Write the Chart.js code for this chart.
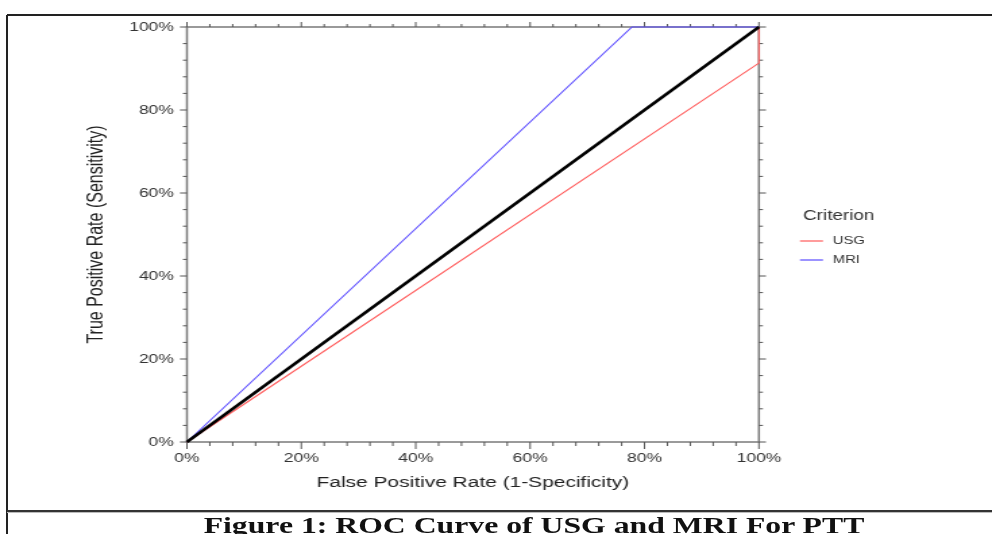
<!DOCTYPE html>
<html lang="en">
<head>
    <meta charset="UTF-8">
    <title>ROC Curve of USG and MRI For PTT</title>
    <script src="https://cdn.jsdelivr.net/npm/chart.js"></script>
    <style>
        body {
            margin: 0;
            padding: 0;
            background: #fff;
            width: 992px;
            height: 534px;
            overflow: hidden;
            position: relative;
            font-family: "Liberation Sans", Arial, sans-serif;
        }

        #rocChart {
            position: absolute;
            left: 0;
            top: 0;
        }

        .frame-left {
            position: absolute;
            left: 6px;
            top: 15px;
            width: 2px;
            height: 519px;
            background: #222;
        }

        .frame-top {
            position: absolute;
            left: 7px;
            top: 14px;
            width: 985px;
            height: 2px;
            background: #222;
        }

        .frame-mid {
            position: absolute;
            left: 7px;
            top: 510px;
            width: 985px;
            height: 2px;
            background: #333;
            border-bottom: 1px solid #bbb;
        }

        .caption {
            position: absolute;
            left: 0;
            width: 992px;
            top: 512px;
            text-align: center;
            font-family: "Liberation Serif", "Times New Roman", serif;
            font-weight: bold;
            font-size: 23.5px;
            color: #111;
            transform: translateX(38px) scaleX(1.35);
            transform-origin: 496px 0;
            white-space: nowrap;
        }
    </style>
</head>
<body>
<!-- drawn at 735px wide and stretched to 992px, like the reference image -->
<canvas id="rocChart" width="735" height="534" style="width: 992px; height: 534px;"></canvas>
<div class="frame-left"></div>
<div class="frame-top"></div>
<div class="frame-mid"></div>
<div class="caption">Figure 1: ROC Curve of USG and MRI For PTT</div>

<script>
    // ROC points (false positive rate, true positive rate)
    const usgFpr = [0, 1, 1];
    const usgTpr = [0, 0.913, 1];
    const mriFpr = [0, 0.778, 1];
    const mriTpr = [0, 1, 1];
    const refFpr = [0, 1];
    const refTpr = [0, 1];

    const majorTicks = [0, 0.2, 0.4, 0.6, 0.8, 1];
    const tickLabels = ["0%", "20%", "40%", "60%", "80%", "100%"];
    const minorStep = 0.04;

    const legendTitle = "Criterion";
    const seriesNames = ["USG", "MRI"];
    const seriesColors = ["#ff5a5a", "#5a4bff"];

    function toPoints(xs, ys) {
        return xs.map((x, i) => ({x: x, y: ys[i]}));
    }

    function tickText(value) {
        const idx = majorTicks.findIndex(t => Math.abs(t - value) < 1e-6);
        return idx >= 0 ? tickLabels[idx] : "";
    }

    // axis frame with ticks on all four sides (drawn under the curves)
    const axisFrame = {
        id: "axisFrame",
        beforeDatasetsDraw(chart) {
            const ctx = chart.ctx;
            const a = chart.chartArea;
            const xs = chart.scales.x, ys = chart.scales.y;
            ctx.save();
            ctx.strokeStyle = "#7a7a7a";
            ctx.lineWidth = 1.5;
            ctx.strokeRect(a.left, a.top, a.right - a.left, a.bottom - a.top);
            ctx.lineWidth = 1;
            ctx.strokeStyle = "#555";
            const n = Math.round(1 / minorStep);
            for (let i = 0; i <= n; i++) {
                const v = i * minorStep;
                const major = i % 5 === 0;
                const px = xs.getPixelForValue(v);
                const py = ys.getPixelForValue(v);
                const lv = major ? 7 : 4;
                const lh = major ? 5.2 : 3;
                ctx.beginPath();
                // bottom
                ctx.moveTo(px, a.bottom);
                ctx.lineTo(px, a.bottom + lv);
                // top
                ctx.moveTo(px, a.top);
                ctx.lineTo(px, a.top - (major ? 5 : 3));
                // left
                ctx.moveTo(a.left, py);
                ctx.lineTo(a.left - lh, py);
                // right
                ctx.moveTo(a.right, py);
                ctx.lineTo(a.right + lh, py);
                ctx.stroke();
            }
            ctx.restore();
        },
        afterDraw(chart) {
            const ctx = chart.ctx;
            ctx.save();
            ctx.fillStyle = "#333";
            ctx.textBaseline = "middle";
            ctx.textAlign = "left";
            ctx.font = "14px 'Liberation Sans', Arial, sans-serif";
            ctx.fillText(legendTitle, 595, 216);
            ctx.font = "11px 'Liberation Sans', Arial, sans-serif";
            const rows = [241, 260];
            seriesNames.forEach((name, i) => {
                ctx.strokeStyle = seriesColors[i];
                ctx.lineWidth = 1.2;
                ctx.beginPath();
                ctx.moveTo(592.7, rows[i]);
                ctx.lineTo(609.8, rows[i]);
                ctx.stroke();
                ctx.fillText(name, 617, rows[i]);
            });
            ctx.restore();
        }
    };

    const ctx = document.getElementById("rocChart").getContext("2d");
    const rocChart = new Chart(ctx, {
        type: "scatter",
        data: {
            datasets: [
                {
                    label: "Reference",
                    data: toPoints(refFpr, refTpr),
                    borderColor: "#000",
                    borderWidth: 2.6,
                    order: 0
                },
                {
                    label: seriesNames[0],
                    data: toPoints(usgFpr, usgTpr),
                    borderColor: seriesColors[0],
                    borderWidth: 1.1,
                    order: 1
                },
                {
                    label: seriesNames[1],
                    data: toPoints(mriFpr, mriTpr),
                    borderColor: seriesColors[1],
                    borderWidth: 1.1,
                    order: 2
                }
            ].map(d => Object.assign(d, {showLine: true, pointRadius: 0, fill: false, clip: false, tension: 0}))
        },
        options: {
            responsive: false,
            animation: false,
            devicePixelRatio: 1,
            layout: {
                padding: {left: 38.5, right: 172.7, top: 27, bottom: 32}
            },
            plugins: {
                legend: {display: false},
                tooltip: {enabled: false}
            },
            scales: {
                x: {
                    type: "linear",
                    min: 0,
                    max: 1,
                    afterFit: s => { s.height = 60; },
                    grid: {display: false, drawTicks: false},
                    border: {display: false},
                    ticks: {
                        stepSize: 0.2,
                        autoSkip: false,
                        maxRotation: 0,
                        padding: 9,
                        color: "#333",
                        font: {family: "'Liberation Sans', Arial, sans-serif", size: 13},
                        callback: v => tickText(v)
                    },
                    title: {
                        display: true,
                        text: "False Positive Rate (1-Specificity)",
                        color: "#222",
                        font: {family: "'Liberation Sans', Arial, sans-serif", size: 15.5},
                        padding: {top: 0, bottom: 9.5}
                    }
                },
                y: {
                    type: "linear",
                    min: 0,
                    max: 1,
                    afterFit: s => { s.width = 100; },
                    grid: {display: false, drawTicks: false},
                    border: {display: false},
                    ticks: {
                        stepSize: 0.2,
                        autoSkip: false,
                        padding: 9.6,
                        color: "#333",
                        font: {family: "'Liberation Sans', Arial, sans-serif", size: 13},
                        callback: v => tickText(v)
                    },
                    title: {
                        display: true,
                        text: "True Positive Rate (Sensitivity)",
                        color: "#222",
                        font: {family: "'Liberation Sans', Arial, sans-serif", size: 16},
                        padding: {top: 23, bottom: 0}
                    }
                }
            }
        },
        plugins: [axisFrame]
    });
</script>
</body>
</html>
